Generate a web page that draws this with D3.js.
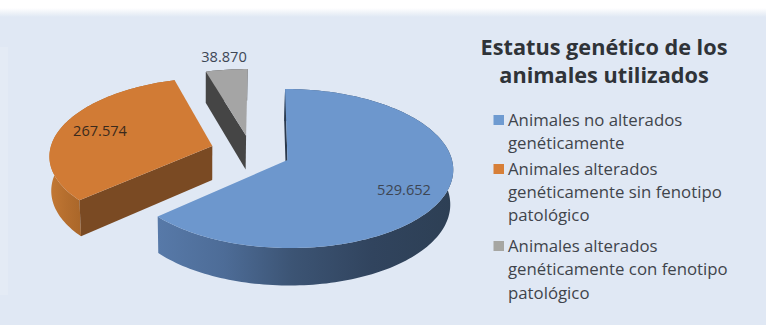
<!DOCTYPE html>
<html lang="es">
<head>
<meta charset="utf-8">
<script src="https://cdn.jsdelivr.net/npm/d3@7/dist/d3.min.js"></script>
<style>
  html, body { margin: 0; padding: 0; background: #fff; }
  svg { display: block; }
  text { font-family: "Open Sans", "Noto Sans", sans-serif; }
</style>
</head>
<body>
<svg id="chart" width="766" height="325"></svg>
<script>
// Data
const categories = [
  ["Animales no alterados", "genéticamente"],
  ["Animales alterados", "genéticamente sin fenotipo", "patológico"],
  ["Animales alterados", "genéticamente con fenotipo", "patológico"]
];
const values = [529652, 267574, 38870];
const valueLabels = ["529.652", "267.574", "38.870"];
const titleLines = ["Estatus genético de los", "animales utilizados"];

// Styling and layout
const topColors = ["#6d97cd", "#d17b35", "#a5a5a5"];
const legendColors = ["#6f9bd1", "#d77f38", "#a6a6a2"];
const explode = [[0, 0], [-0.463, 0.182], [-0.255, 0.32]];
const labelPos = [[404, 190], [100, 131], [224, 57]];
const legendRows = [115, 164, 241];
const legendLineY = [[126, 148.5], [174.5, 198, 221], [252, 275, 299]];

const svg = d3.select("#chart");
const defs = svg.append("defs");

function gradient(id, x1, x2, stops) {
  const g = defs.append("linearGradient").attr("id", id)
    .attr("gradientUnits", "userSpaceOnUse")
    .attr("x1", x1).attr("x2", x2).attr("y1", 0).attr("y2", 0);
  stops.forEach(([o, c]) => g.append("stop").attr("offset", o).attr("stop-color", c));
}
gradient("blueRim", 159, 455, [[0, "#5779a8"], [0.22, "#4d6c97"], [0.45, "#3c5474"], [0.72, "#31445e"], [1, "#2d3f54"]]);
gradient("orangeRim", 50, 82, [[0, "#c27834"], [0.5, "#b56e2e"], [1, "#a96629"]]);

// Soft top edge of the panel
const panelFade = defs.append("linearGradient").attr("id", "panelFade")
  .attr("x1", 0).attr("x2", 0).attr("y1", 0).attr("y2", 1);
[[0, "#ffffff"], [0.55, "#eef2f8"], [1, "#e0e8f4"]].forEach(([o, c]) =>
  panelFade.append("stop").attr("offset", o).attr("stop-color", c));

// Page and panel backgrounds
svg.append("rect").attr("width", 766).attr("height", 325).attr("fill", "#ffffff");
svg.append("rect").attr("y", 8).attr("width", 766).attr("height", 9).attr("fill", "url(#panelFade)");
svg.append("rect").attr("y", 17).attr("width", 766).attr("height", 308).attr("fill", "#e0e8f4");
svg.append("rect").attr("x", 0).attr("y", 47).attr("width", 8).attr("height", 248).attr("fill", "#e4ebf5");

// Perspective projection of the tilted disk: (u, v) lie on the disk plane, z drops towards the base
const X0 = 287.5, Y0 = 160, RX = 164.5, RY = 78.6, K = 0.107, M = 0.012, SHEAR = 2.7, LEAN = 1, DEPTH = 35;
const sx = d3.scaleLinear().domain([-1, 1]).range([-RX, RX]);
const sy = d3.scaleLinear().domain([-1, 1]).range([RY, -RY]);
function project(u, v, z) {
  const w = 1 + K * v + M * z;
  return [
    X0 + (sx(u) - SHEAR * v - LEAN * z) / w,
    Y0 + (sy(v) + DEPTH * z) / w
  ];
}

const arcs = d3.pie().sort(null)(values);
const path = d3.line();

function rimPoints(a0, a1, off, z) {
  const n = Math.max(8, Math.ceil((a1 - a0) * 40));
  return d3.range(n + 1).map(i => {
    const t = a0 + (a1 - a0) * i / n;
    return project(Math.sin(t) + off[0], Math.cos(t) + off[1], z);
  });
}

const wallColors = [
  { cut: "#2b3a4e", rim: "url(#blueRim)" },
  { cut: "#7a4a23", rim: "url(#orangeRim)" },
  { cut: "#454545", rim: "#454545" }
];

const slices = svg.selectAll("g.slice").data(arcs).join("g").attr("class", "slice");

slices.each(function (d, i) {
  const g = d3.select(this);
  const off = explode[i];
  const apexTop = project(off[0], off[1], 0);
  const apexBase = project(off[0], off[1], 1);
  const topArc = rimPoints(d.startAngle, d.endAngle, off, 0);
  const baseArc = rimPoints(d.startAngle, d.endAngle, off, 1);

  // Curved outer wall
  g.append("path").attr("fill", wallColors[i].rim)
    .attr("d", path(topArc.concat(baseArc.slice().reverse())) + "Z");
  // Straight cut wall facing the viewer
  g.append("path").attr("fill", wallColors[i].cut)
    .attr("d", path([topArc[0], apexTop, apexBase, baseArc[0]]) + "Z");
  // Top face
  g.append("path").attr("fill", topColors[i])
    .attr("d", path([apexTop].concat(topArc)) + "Z");
});

// Value labels
svg.selectAll("text.value").data(valueLabels).join("text")
  .attr("class", "value")
  .attr("x", (d, i) => labelPos[i][0])
  .attr("y", (d, i) => labelPos[i][1] + 5)
  .attr("text-anchor", "middle")
  .attr("font-size", 14.6)
  .attr("fill", (d, i) => i === 1 ? "#3a2a1c" : "#3d4654")
  .text(d => d);

// Title
svg.selectAll("text.title").data(titleLines).join("text")
  .attr("class", "title")
  .attr("x", 604)
  .attr("y", (d, i) => 54.5 + i * 28)
  .attr("text-anchor", "middle")
  .attr("font-size", 21.7)
  .attr("font-weight", 700)
  .attr("fill", "#2f3338")
  .text(d => d);

// Legend
const legend = svg.selectAll("g.legend").data(categories).join("g").attr("class", "legend");
legend.append("rect")
  .attr("x", 493.5).attr("y", (d, i) => legendRows[i])
  .attr("width", 10.5).attr("height", 10)
  .attr("fill", (d, i) => legendColors[i]);
legend.each(function (lines, i) {
  d3.select(this).selectAll("text").data(lines).join("text")
    .attr("x", 508)
    .attr("y", (d, j) => legendLineY[i][j])
    .attr("font-size", 16.8)
    .attr("fill", "#3f444b")
    .text(d => d);
});
</script>
</body>
</html>
